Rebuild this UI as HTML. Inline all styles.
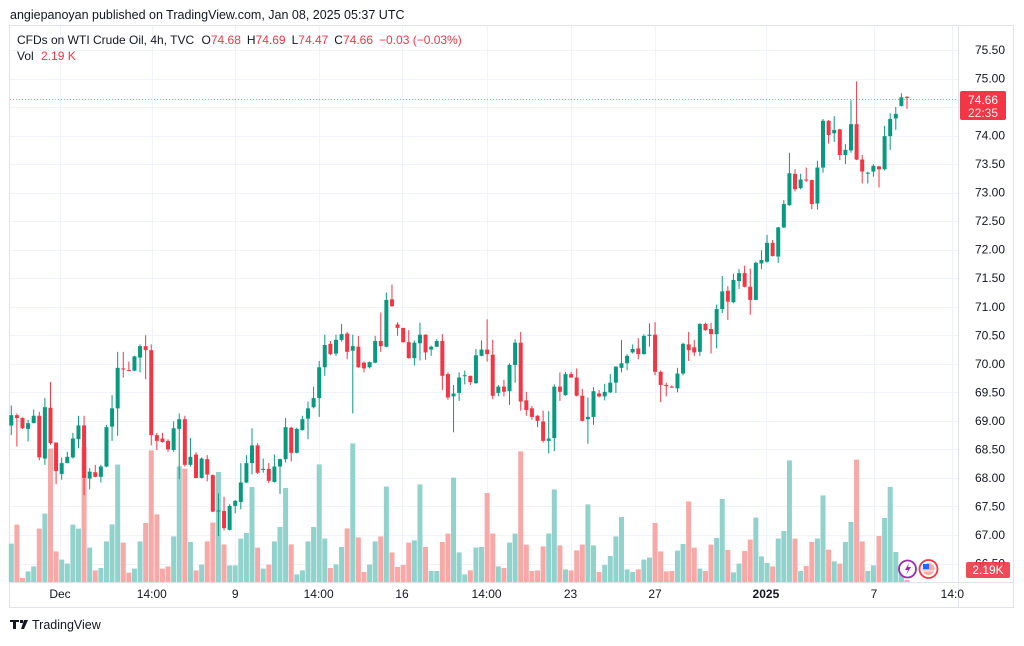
<!DOCTYPE html>
<html><head><meta charset="utf-8"><style>
html,body{margin:0;padding:0;background:#fff;}
body{width:1024px;height:641px;overflow:hidden;font-family:"Liberation Sans",sans-serif;}
svg text{font-family:"Liberation Sans",sans-serif;}
</style></head><body>
<svg id="chart" width="1024" height="641" viewBox="0 0 1024 641" xmlns="http://www.w3.org/2000/svg">
<text x="10" y="19" font-size="12.5" fill="#131722">angiepanoyan published on TradingView.com, Jan 08, 2025 05:37 UTC</text>
<rect x="9.5" y="25.5" width="1004" height="582" fill="none" stroke="#e0e3eb"/>
<g id="grid"></g>
<line x1="958.5" y1="26" x2="958.5" y2="607" stroke="#e0e3eb"/>
<line x1="10" y1="582.5" x2="1013" y2="582.5" stroke="#e0e3eb"/>
<g id="vol"></g>
<g id="candles"></g>
<g id="axes"></g>
<text x="17" y="44" font-size="12" fill="#131722">CFDs on WTI Crude Oil, 4h, TVC <tspan dx="4">O</tspan><tspan fill="#f23645">74.68</tspan><tspan dx="6">H</tspan><tspan fill="#f23645">74.69</tspan><tspan dx="6">L</tspan><tspan fill="#f23645">74.47</tspan><tspan dx="6">C</tspan><tspan fill="#f23645">74.66</tspan><tspan dx="6" fill="#f23645">−0.03 (−0.03%)</tspan></text>
<text x="17" y="60" font-size="12" fill="#131722">Vol <tspan dx="4" fill="#f23645">2.19 K</tspan></text>
<line x1="10" y1="99.5" x2="958" y2="99.5" stroke="#f23645" stroke-dasharray="1,2" opacity="0.6"/>
<rect x="960" y="91" width="46" height="29" rx="2" fill="#f23645"/>
<text x="983" y="104" font-size="12" fill="#fff" text-anchor="middle">74.66</text>
<text x="983" y="117" font-size="12" fill="#fde2e4" text-anchor="middle">22:35</text>
<rect x="966" y="562" width="44" height="16" rx="2" fill="#f23645" opacity="0.9"/>
<text x="988" y="574" font-size="12" fill="#fff" text-anchor="middle">2.19K</text>
<g><circle cx="907.5" cy="569" r="8.5" fill="#fff" stroke="#9c27b0" stroke-width="1.8"/><path d="M909 563 L905 570 L908 570 L906 575 L911 567 L908 567 Z" fill="#9c27b0"/></g>
<g><circle cx="928.5" cy="569" r="9" fill="#fff" stroke="#f23645" stroke-width="1.8"/><circle cx="928.5" cy="569" r="6" fill="#f7a9a7"/><rect x="923" y="564" width="6" height="5" fill="#2962ff"/><line x1="923" y1="571" x2="934" y2="571" stroke="#fff"/></g>
<g><path d="M10 620 h9 v2 h-3 v7 h-3 v-7 h-3 z M20 620 h3 v3 h-3 z M24 620 h4 l-4 9 h-3 z" fill="#131722"/><text x="32" y="629" font-size="12.5" fill="#131722">TradingView</text></g>
</svg>
<script>
const opens=[68.92,69.10,69.05,68.86,68.96,69.09,68.34,69.23,68.62,68.07,68.26,68.36,68.68,68.92,67.99,68.10,68.02,68.20,68.90,69.22,69.92,69.89,69.88,70.11,70.31,70.24,68.75,68.69,68.65,68.49,68.86,69.03,68.23,68.41,68.00,68.33,68.05,67.42,67.42,67.09,67.51,67.58,67.92,68.26,68.57,68.14,68.16,67.93,68.20,68.33,68.88,68.44,68.84,69.04,69.24,69.40,69.94,70.35,70.18,70.42,70.53,70.23,70.30,70.02,69.94,70.02,70.40,70.30,71.13,70.69,70.63,70.38,70.10,70.36,70.51,70.25,70.30,70.40,69.82,69.43,69.49,69.79,69.79,69.66,70.14,70.25,70.16,69.49,69.60,69.52,69.98,70.37,69.36,69.22,69.09,68.99,68.65,68.70,69.60,69.45,69.82,69.76,69.44,69.03,69.07,69.48,69.43,69.50,69.67,69.93,70.01,70.20,70.27,70.17,70.49,70.51,69.86,69.63,69.60,69.57,69.83,70.34,70.29,70.21,70.70,70.61,70.52,70.96,71.28,71.08,71.45,71.59,71.35,71.12,71.76,71.79,72.12,71.88,72.39,72.78,73.33,73.08,73.23,73.22,72.81,73.44,74.26,74.04,74.11,73.66,73.74,74.20,73.58,73.34,73.37,73.46,73.41,73.99,74.30,74.52,74.68];
const closes=[69.10,69.05,68.87,68.96,69.09,68.36,69.24,68.61,68.12,68.26,68.37,68.69,68.92,68.00,68.11,68.02,68.20,68.89,69.22,69.93,69.91,69.88,70.13,70.31,70.24,68.75,68.65,68.63,68.50,68.87,69.03,68.23,68.37,68.00,68.34,68.06,67.41,67.43,67.12,67.51,67.60,67.92,68.26,68.57,68.09,68.16,67.95,68.20,68.33,68.89,68.44,68.86,69.03,69.22,69.40,69.94,70.33,70.17,70.42,70.52,70.21,70.31,69.94,69.92,70.03,70.40,70.31,71.12,71.01,70.63,70.38,70.10,70.37,70.51,70.20,70.30,70.40,69.79,69.41,69.48,69.76,69.80,69.68,70.15,70.25,70.17,69.44,69.60,69.51,69.98,70.37,69.34,69.19,69.07,69.00,68.65,68.69,69.60,69.51,69.82,69.76,69.44,69.00,69.07,69.52,69.43,69.51,69.67,69.95,70.01,70.14,70.26,70.17,70.49,70.51,69.86,69.63,69.61,69.59,69.83,70.35,70.24,70.20,70.70,70.59,70.52,70.96,71.27,71.09,71.47,71.59,71.35,71.12,71.77,71.82,72.12,71.89,72.39,72.80,73.34,73.06,73.23,73.22,72.80,73.44,74.26,74.01,74.10,73.66,73.75,74.20,73.58,73.37,73.35,73.47,73.41,73.99,74.29,74.38,74.67,74.66];
const highs=[69.27,69.13,69.06,69.02,69.20,69.16,69.40,69.68,68.62,68.36,68.46,68.79,69.09,69.09,68.17,68.23,68.23,68.93,69.45,70.21,70.21,70.04,70.14,70.34,70.50,70.34,68.79,68.79,68.68,68.99,69.13,69.09,68.70,68.45,68.36,68.40,68.06,67.73,67.67,67.54,67.61,68.26,68.40,68.87,68.61,68.34,68.26,68.41,68.34,69.05,68.90,68.88,69.09,69.34,69.60,70.05,70.51,70.40,70.51,70.70,70.56,70.51,70.49,70.04,70.04,70.49,70.90,71.25,71.39,70.73,70.63,70.59,70.41,70.72,70.52,70.32,70.43,70.52,69.85,69.63,69.85,69.88,69.79,70.26,70.41,70.78,70.42,69.63,69.72,70.01,70.43,70.56,69.51,69.26,69.10,69.18,69.17,69.64,69.85,69.86,69.86,69.92,69.56,69.41,69.59,69.54,69.65,69.82,69.96,70.42,70.17,70.34,70.45,70.52,70.71,70.73,69.88,69.67,69.62,69.93,70.37,70.56,70.42,70.71,70.72,70.72,71.04,71.54,71.36,71.58,71.66,71.72,71.67,71.79,71.99,72.26,72.17,72.40,72.87,73.70,73.41,73.33,73.44,73.23,73.56,74.29,74.27,74.34,74.12,73.85,74.62,74.95,73.66,73.37,73.50,73.47,74.17,74.39,74.50,74.74,74.69];
const lows=[68.75,68.55,68.86,68.64,68.96,68.31,68.23,68.58,67.89,67.97,68.26,68.34,68.52,67.70,67.80,68.01,67.92,68.19,68.65,68.74,69.76,69.87,69.87,69.85,69.73,68.57,68.49,68.62,68.46,68.46,67.98,68.20,68.20,67.99,67.99,67.94,67.40,66.98,67.08,67.08,67.38,67.45,67.91,68.06,68.07,68.09,67.91,67.92,67.72,68.27,68.29,68.43,68.83,68.68,69.22,69.07,69.79,70.15,70.14,70.39,70.08,69.13,69.93,69.85,69.92,70.01,70.21,70.29,71.00,70.49,70.37,70.09,69.97,70.06,70.07,70.14,70.29,69.54,69.37,68.80,69.35,69.64,69.63,69.65,70.13,70.04,69.38,69.43,69.43,69.28,69.67,69.18,69.09,69.02,68.89,68.62,68.43,68.47,69.35,69.44,69.75,69.43,68.99,68.60,68.93,69.41,69.36,69.49,69.49,69.85,69.89,70.18,70.08,70.16,70.30,69.80,69.33,69.43,69.58,69.50,69.80,70.05,70.14,70.14,70.58,70.18,70.27,70.89,70.77,71.06,71.31,71.34,70.86,71.12,71.66,71.77,71.88,71.77,72.38,72.77,73.02,73.06,73.19,72.71,72.70,73.35,73.86,73.89,73.57,73.50,73.70,73.57,73.16,73.16,73.28,73.09,73.39,73.75,74.10,74.51,74.47];
const volumes=[1.92,2.87,0.20,0.53,0.78,2.67,3.42,6.67,1.53,1.12,0.92,2.87,2.67,6.75,1.72,0.58,0.70,2.03,2.88,5.87,1.97,0.47,0.67,2.03,2.95,6.58,3.38,0.67,0.78,2.28,5.78,5.67,2.00,0.58,0.87,2.03,2.97,5.50,1.88,0.83,0.83,2.17,2.45,4.75,1.72,0.67,0.87,2.03,2.75,4.70,1.88,0.38,0.58,2.03,2.75,5.88,2.17,0.70,0.88,1.75,2.68,6.93,2.23,0.50,0.87,2.03,2.28,4.77,1.48,0.75,0.85,1.97,2.08,4.88,1.75,0.55,0.55,2.00,2.42,5.22,1.48,0.38,0.58,1.72,1.75,4.45,2.42,0.78,0.70,1.97,2.42,6.53,1.87,0.55,0.58,1.78,2.42,4.63,1.83,0.63,0.58,1.58,1.87,3.88,1.83,0.50,0.85,1.30,2.28,3.25,0.63,0.50,0.63,1.12,1.22,2.95,1.53,0.53,0.55,1.57,1.90,4.03,1.72,0.67,0.55,1.87,2.20,4.15,1.60,0.48,0.92,1.55,2.12,3.22,1.28,0.95,0.78,2.17,2.55,6.08,2.17,0.55,0.80,2.00,2.17,4.33,1.62,1.03,0.92,2.00,3.00,6.12,2.03,0.55,0.83,2.30,3.20,4.75,1.50,0.58,0.10];
const priceTicks=[75.5,75,74.5,74,73.5,73,72.5,72,71.5,71,70.5,70,69.5,69,68.5,68,67.5,67,66.5];
const timeLabels=["Dec","14:00","9","14:00","16","14:00","23","27","2025","7","14:0"];
const timeLabelIndex=[8.7,25.1,40,54.9,69.8,84.9,99.9,115,134.8,154.1,168.1];

const NS="http://www.w3.org/2000/svg";
const yP=p=>50+(75.5-p)*57.06;
const xI=i=>11.3+i*5.598;
const yV=v=>582-v*20;
function mk(tag,attrs,parent){const e=document.createElementNS(NS,tag);for(const k in attrs)e.setAttribute(k,attrs[k]);parent.appendChild(e);return e;}
const grid=document.getElementById('grid'),axes=document.getElementById('axes');
priceTicks.forEach(p=>{
  const y=Math.round(yP(p))+0.5;
  if(y<580){const l=mk('line',{x1:10,x2:958,y1:y,y2:y,stroke:'#f0f3fa'},grid);
  
  }
  const t=mk('text',{x:975,y:yP(p)+4,'font-size':12,fill:'#131722'},axes);
  
  
  t.textContent=p.toFixed(2);
});
timeLabels.forEach((s,k)=>{
  const x=xI(timeLabelIndex[k]);
  const l=mk('line',{x1:Math.round(x)+0.5,x2:Math.round(x)+0.5,y1:26,y2:582,stroke:'#f0f3fa'},grid);
  
  
  const t=mk('text',{x:x,y:598,'font-size':12,fill:'#131722','text-anchor':'middle','font-weight':s==='2025'?'bold':'normal'},axes);
  
  
  t.textContent=s;
});
const vg=document.getElementById('vol'),cg=document.getElementById('candles');
closes.forEach((c,i)=>{
  const o=opens[i],up=c>=o,x=xI(i);
  const vb=mk('rect',{x:x-2.5,y:yV(volumes[i]),width:5,height:582-yV(volumes[i]),fill:up?'#92d2cc':'#f7a9a7'},vg);
  
  
  const col=up?'#089981':'#f23645';
  const g=mk('g',{},cg);
  
  
  mk('line',{x1:x,x2:x,y1:yP(highs[i]),y2:yP(lows[i]),stroke:col,'stroke-width':1},g);
  const top=yP(Math.max(o,c)),bot=yP(Math.min(o,c));
  mk('rect',{x:x-2,y:top,width:4,height:Math.max(1,bot-top),fill:col},g);
});
</script>
</body></html>
